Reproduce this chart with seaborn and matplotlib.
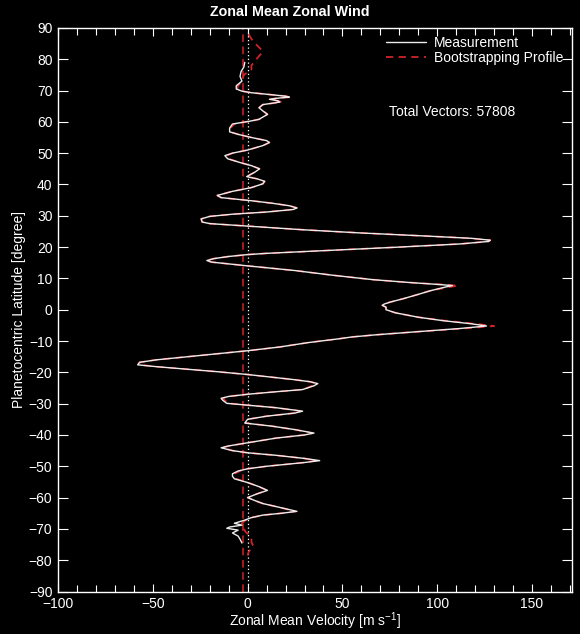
import matplotlib
matplotlib.use("Agg")
import matplotlib.pyplot as plt
import seaborn as sns
import pandas as pd
from matplotlib.ticker import MultipleLocator

# Measured zonal-mean zonal wind profile (latitude in degrees, velocity in m/s)
meas_lat = [79, 77.5, 76, 74.5, 73, 71.5, 70.5, 69.8, 69.3, 68.7, 68.2, 67.9, 67.5, 67.2,
            66.7, 66.3, 65.5, 64.5, 63.5, 62.4, 61.5, 60.8, 60.3, 59.3, 58, 56.8, 56, 55,
            54, 53.4, 52.4, 51, 50, 49.2, 48.2, 47, 46, 45, 44, 43, 42.5, 41.8, 41, 40.2,
            39, 37.8, 36.5, 35.8, 34.8, 34, 33.2, 32.5, 32, 31.2, 30.5, 29.8, 29, 28, 27.5,
            26.7, 25.5, 24.5, 23.5, 22.8, 22.2, 21.8, 21, 20, 19, 18, 17.6, 17, 16.3, 15.7,
            15.2, 14.5, 14, 12.5, 11, 9.6, 8.7, 8, 7.7, 7.2, 6, 4.9, 3.5, 2.4, 1.8, 1.4,
            0.8, 0, -1, -2.4, -3.5, -4.5, -5.2, -6, -7, -8, -8.7, -9.3, -10.5, -11.9,
            -13.1, -14, -15, -16, -16.8, -17.6, -18.2, -18.8, -19.8, -20.7, -21.5, -22.3,
            -23, -23.6, -24.3, -25.5, -26.2, -27, -27.7, -28.3, -29, -29.9, -30.5, -31.3,
            -32.4, -33, -34, -35, -36.2, -37.2, -38.3, -39.4, -40, -41, -42.5, -43.5,
            -44.1, -45, -45.7, -46.5, -47.5, -48.2, -48.8, -50, -50.8, -51.5, -52.4, -53.2,
            -54, -55.2, -56.5, -57.7, -58.8, -60, -61, -61.9, -63, -64.4, -65, -65.6,
            -66.4, -67.2, -68.2, -68.8, -69.4, -69.8, -70.4, -71.3, -72.3, -73.3, -74.5]
meas_u = [-1.5, -2, -3.5, -4, -3, -6, -6, -3, 2, 12, 20, 22, 15, 11.5,
          16, 17, 8, 6, 8, 10.5, 8, 6, 2, -8, -9.5, -9.5, -5, 2,
          10, 11.5, 8, 0, -8, -12, -10.5, -4, 2, 6.3, 4, 1, -0.5, 5, 9, 8,
          2, -8, -16, -14, 2, 13, 22, 26, 24, 10, -8, -20, -24.5, -24, -20,
          0, 30, 60, 95, 118, 128, 127, 112, 80, 45, 10, 0, -10, -18, -21.5,
          -19, -8, 0, 25, 45, 66, 85, 102, 108, 104, 96, 90, 82, 75, 72, 71,
          73, 73, 78, 90, 103, 118, 126, 112, 90, 68, 55, 48, 32, 17,
          0, -15, -32, -48, -57, -58, -48, -36, -16, 0, 12, 24,
          33, 37, 35, 29, 15, 0, -10, -14, -13, -11, 0, 15,
          29, 25, 10, 0, -1.5, 13, 25, 35, 30, 15, 0, -10,
          -14, -8, 0, 15, 30, 38, 30, 10, 0, -5, -8, -8,
          -7, 0, 6, 10.5, 5, 0, 4, 8, 16, 26, 18, 8,
          2, -1.5, -7, -3, -9.5, -11, -5, -8, -5, -4, -3]

# Bootstrapped profile (extends slightly beyond the measured range)
boot_lat = [88, 86.5, 85, 83.5, 82.4, 81, 79.5, 78, 76.7, 75, 73, 71.5, 70.5, 69.8, 69.3,
            68.7, 68.2, 67.9, 67.5, 67.2, 66.7, 66.3, 65.5, 64.5, 63.5, 62.4, 61.5, 60.8,
            60.3, 59.3, 58, 56.8, 56, 55, 54, 53.4, 52.4, 51, 50, 49.2, 48.2, 47, 46, 45,
            44, 43, 42.5, 41.8, 41, 40.2, 39, 37.8, 36.5, 35.8, 34.8, 34, 33.2, 32.5, 32,
            31.2, 30.5, 29.8, 29, 28, 27.5, 26.7, 25.5, 24.5, 23.5, 22.8, 22.2, 21.8, 21,
            20, 19, 18, 17.6, 17, 16.3, 15.7, 15.2, 14.5, 14, 12.5, 11, 9.6, 8.7, 8, 7.7,
            7.2, 6, 4.9, 3.5, 2.4, 1.8, 1.4, 0.8, 0, -1, -2.4, -3.5, -4.5, -5.2, -6, -7,
            -8, -8.7, -9.3, -10.5, -11.9, -13.1, -14, -15, -16, -16.8, -17.6, -18.2,
            -18.8, -19.8, -20.7, -21.5, -22.3, -23, -23.6, -24.3, -25.5, -26.2, -27,
            -27.7, -28.3, -29, -29.9, -30.5, -31.3, -32.4, -33, -34, -35, -36.2, -37.2,
            -38.3, -39.4, -40, -41, -42.5, -43.5, -44.1, -45, -45.7, -46.5, -47.5, -48.2,
            -48.8, -50, -50.8, -51.5, -52.4, -53.2, -54, -55.2, -56.5, -57.7, -58.8, -60,
            -61, -61.9, -63, -64.4, -65, -65.6, -66.4, -67.2, -68.2, -69, -70, -71, -72,
            -73, -74.2, -75.5, -76.5, -77.4, -78.5]
boot_u = [0.5, 2, 4, 6.5, 8, 6, 4, 2, 2, -2, -3, -5, -5.5, -3, 2,
          12, 20, 23, 15, 11.5, 16, 18, 8, 6, 8, 10.5, 8, 6,
          2, -7, -9, -9, -5, 2, 10, 11.5, 8, 0, -8, -11, -10, -4, 2, 6.3,
          4, 1, -0.5, 5, 9, 8, 2, -8, -16, -14, 2, 13, 22, 26, 24,
          10, -8, -20, -24.5, -24, -20, 0, 30, 60, 95, 118, 128, 127, 112,
          80, 45, 10, 0, -10, -18, -21.5, -19, -8, 0, 25, 45, 66, 85, 104, 111,
          106, 96, 90, 82, 75, 72, 71, 73, 73, 78, 90, 104, 120, 130, 114, 90,
          68, 55, 48, 32, 17, 0, -15, -32, -48, -57, -57, -48,
          -36, -16, 0, 12, 24, 33, 36, 34, 29, 15, 0,
          -10, -13, -12, -10, 0, 15, 28, 25, 10, 0, -1, 13,
          25, 34, 30, 15, 0, -10, -13, -8, 0, 15, 30, 36,
          30, 10, 0, -4, -7, -7, -6, 0, 6, 10, 5, 0,
          4, 8, 16, 25, 18, 8, 2, -1, -3, -3, -2, -1, 1,
          2, 2, 3, 1.5, 0.5, 0]

reference_u = -2.7
title = "Zonal Mean Zonal Wind"
xlabel = r"Zonal Mean Velocity [m s$^{-1}$]"
ylabel = "Planetocentric Latitude [degree]"
note = "Total Vectors: 57808"

meas = pd.DataFrame({"lat": meas_lat, "u": meas_u})
boot = pd.DataFrame({"lat": boot_lat, "u": boot_u})

sns.set_theme(style="dark", rc={
    "figure.facecolor": "black", "axes.facecolor": "black",
    "axes.edgecolor": "white", "axes.labelcolor": "white",
    "text.color": "white", "xtick.color": "white", "ytick.color": "white",
    "axes.grid": False,
})
plt.rcParams["font.family"] = ["Liberation Sans", "DejaVu Sans"]
plt.rcParams["mathtext.default"] = "regular"

fig = plt.figure(figsize=(5.8, 6.34), dpi=100)
ax = fig.add_axes([0.1, 0.067, 0.886, 0.889])

red = "#d02428"
ax.axvline(reference_u, color=red, lw=1.1, ls=(0, (5, 3)))
ax.axvline(0, color="white", lw=0.9, ls=(0, (1, 2)))

sns.lineplot(data=boot, x="u", y="lat", sort=False, estimator=None, ax=ax,
             color=red, lw=1.3, linestyle=(0, (4, 3)), label="Bootstrapping Profile")
sns.lineplot(data=meas, x="u", y="lat", sort=False, estimator=None, ax=ax,
             color="#ececec", lw=1.0, label="Measurement")

ax.set_xlim(-100, 171)
ax.set_ylim(-90, 90)
ax.xaxis.set_major_locator(MultipleLocator(50))
ax.xaxis.set_minor_locator(MultipleLocator(10))
ax.yaxis.set_major_locator(MultipleLocator(10))
ax.tick_params(which="both", direction="in", top=True, right=True,
               bottom=True, left=True, labelsize=10, colors="white")
ax.tick_params(which="major", axis="x", length=6, width=0.8, pad=4)
ax.tick_params(which="minor", axis="x", length=5, width=0.8)
ax.tick_params(which="major", axis="y", length=7, width=0.8, pad=4)
for s in ax.spines.values():
    s.set_color("white")
    s.set_linewidth(1.0)

ax.set_xlabel(xlabel, fontsize=10, labelpad=-0.5)
ax.set_ylabel(ylabel, fontsize=10, labelpad=2)
fig.text(0.5, 0.981, title, fontsize=10.3, fontweight="bold", color="white",
         ha="center", va="center")

handles, labels = ax.get_legend_handles_labels()
order = [labels.index("Measurement"), labels.index("Bootstrapping Profile")]
leg = ax.legend([handles[i] for i in order], [labels[i] for i in order],
                loc="upper right", frameon=False, fontsize=10, handlelength=2.9,
                handletextpad=0.6, labelspacing=0.05, borderaxespad=0.2,
                bbox_to_anchor=(1.0, 1.0))
for t in leg.get_texts():
    t.set_color("white")

ax.text(0.645, 0.851, note, transform=ax.transAxes, fontsize=10, color="white",
        va="center")

fig.savefig("out.png", dpi=100, facecolor="black")
